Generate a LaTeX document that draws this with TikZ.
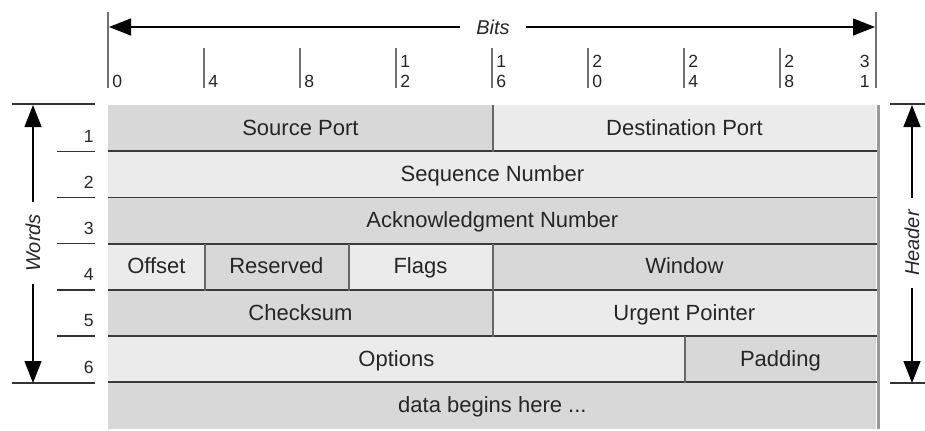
\documentclass[tikz,border=0pt]{standalone}
\usepackage{fontspec}
\setmainfont{Liberation Sans}
\usetikzlibrary{arrows.meta}
\definecolor{cDark}{HTML}{D8D8D8}
\definecolor{cLight}{HTML}{EBEBEB}
\definecolor{cRule}{HTML}{3A3A3A}
\definecolor{cBar}{HTML}{707070}

\begin{document}
\begin{tikzpicture}[
  x=0.5pt,y=-0.5pt,
  font=\fontsize{11}{13}\selectfont,
  fld/.style ={anchor=north west,inner sep=0pt,minimum height=23.1pt,
               text height=8pt,text depth=1.2pt,text=black!85},
  rule/.style={draw=cRule,line width=0.9pt},
  vrule/.style={draw=black!60,line width=1pt},
  rim/.style ={draw=black!40,line width=1.6pt},
  bar/.style ={draw=cBar,line width=1pt},
  lbl/.style ={font=\fontsize{8.8}{10}\selectfont,text=black!85,align=left,inner sep=0pt},
  axlab/.style={font=\fontsize{10}{12}\selectfont\itshape,text=black!85,inner ysep=1pt},
  arr/.style ={-{Triangle[length=11pt,width=8.5pt]},draw=black,line width=0.7pt},
  tck/.style ={draw=black!80,line width=0.7pt},
]
\useasboundingbox (0,0) rectangle (925,430);

\foreach \nm/\r/\b/\w/\c/\t in {
    src/0/0/16/cDark/{Source Port}, dst/0/16/16/cLight/{Destination Port},
    seq/1/0/32/cLight/{Sequence Number},
    ack/2/0/32/cDark/{Acknowledgment Number},
    off/3/0/4/cLight/{Offset}, res/3/4/6/cDark/{Reserved},
    flg/3/10/6/cLight/{Flags}, win/3/16/16/cDark/{Window},
    chk/4/0/16/cDark/{Checksum}, urg/4/16/16/cLight/{Urgent Pointer},
    opt/5/0/24/cLight/{Options}, pad/5/24/8/cDark/{Padding},
    data/6/0/32/cDark/{data begins here ...}}
  {\node[fld,fill=\c,minimum width=\w*12pt] (\nm) at ({108+24*\b},{105+46.2*\r}) {\t};}

\draw[rule] (seq.north west) -- (seq.north east);
\draw[rule] (ack.north west) -- (ack.north east);
\draw[rule] (off.north west) -- (win.north east);
\draw[rule] (chk.north west) -- (urg.north east);
\draw[rule] (opt.north west) -- (pad.north east);
\draw[rule] (data.north west) -- (data.north east);
\foreach \n in {src,off,res,flg,chk,opt}
  \draw[vrule] (\n.north east) -- (\n.south east);
\draw[rim] ([xshift=0.8pt]dst.north east) -- ([xshift=0.8pt]data.south east);

% bit ruler
\draw[bar] (108,12) -- (108,88);
\draw[bar] (876,12) -- (876,88);
\coordinate (b0) at (109,27);
\coordinate (b31) at (875,27);
\node[axlab,inner xsep=8pt] (bits) at (493,27) {Bits};
\draw[arr] (bits.west) -- (b0);
\draw[arr] (bits.east) -- (b31);
\node[lbl,anchor=south west] (t0) at (112,88) {0};
\foreach \k/\t in {4/4,8/8,12/{1\\2},16/{1\\6},20/{2\\0},24/{2\\4},28/{2\\8}}
  {\draw[bar] ({108+24*\k},48) -- ({108+24*\k},88);
   \node[lbl,anchor=south west] (t\k) at ({112+24*\k},88) {\t};}
\node[lbl,anchor=south east] (t31) at (870,88) {3\\1};

% words
\draw[tck] (12,104) -- (95,104);
\draw[tck] (12,383) -- (95,383);
\foreach \i in {1,...,5}
  \draw[tck] (57,{105+46.2*\i}) -- (95,{105+46.2*\i});
\foreach \i in {1,...,6}
  \node[lbl,anchor=east] (w\i) at (94,{105+46.2*\i-15}) {\i};
\coordinate (wtop) at (33,105);
\coordinate (wbot) at (33,383);
\node[axlab,rotate=90,inner xsep=6pt] (words) at (33,243) {Words};
\draw[arr] (words.east) -- (wtop);
\draw[arr] (words.west) -- (wbot);

% header
\draw[tck] (890,104) -- (925,104);
\draw[tck] (890,383) -- (925,383);
\coordinate (htop) at (912,105);
\coordinate (hbot) at (912,383);
\node[axlab,rotate=90,inner xsep=6pt] (hdr) at (912,243) {Header};
\draw[arr] (hdr.east) -- (htop);
\draw[arr] (hdr.west) -- (hbot);
\end{tikzpicture}
\end{document}
